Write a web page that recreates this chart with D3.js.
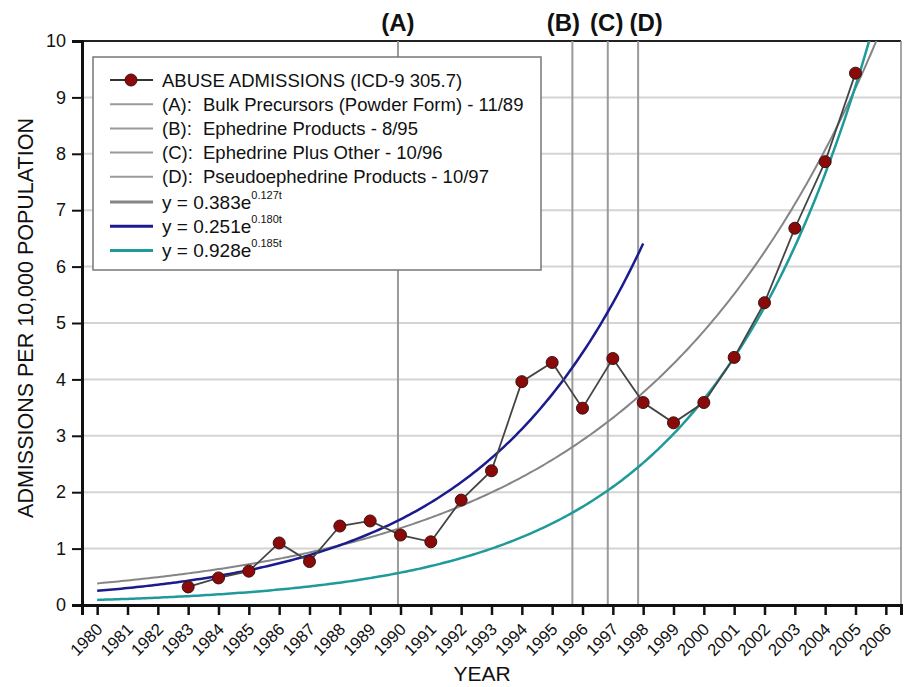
<!DOCTYPE html>
<html>
<head>
<meta charset="utf-8">
<script src="https://cdn.jsdelivr.net/npm/d3@7"></script>
<style>
  body { margin: 0; background: #fff; }
  text { font-family: 'Liberation Sans', Arial, sans-serif; fill: #111; }
</style>
</head>
<body>
<svg id="chart" width="905" height="687"></svg>
<script>
// data
var years = [1983, 1984, 1985, 1986, 1987, 1988, 1989, 1990, 1991, 1992, 1993, 1994,
  1995, 1996, 1997, 1998, 1999, 2000, 2001, 2002, 2003, 2004, 2005];
var admissions = [0.32, 0.48, 0.60, 1.10, 0.77, 1.40, 1.49, 1.24, 1.12, 1.86, 2.38, 3.96,
  4.30, 3.49, 4.37, 3.59, 3.23, 3.59, 4.39, 5.36, 6.68, 7.86, 9.43];

// policy events (year + month/12)
var eventNames = ['(A)', '(B)', '(C)', '(D)'];
var eventDates = [1989 + 11 / 12, 1995 + 8 / 12, 1996 + 10 / 12, 1997 + 10 / 12];
var eventLabelShift = [0, -9, -1, 8];

// exponential fits y = a * e^(b t), t counted from origin year
var fitLabels = ['0.383', '0.251', '0.928'];
var fitExps = ['0.127t', '0.180t', '0.185t'];
var fitA = [0.383, 0.251, 0.928];
var fitB = [0.127, 0.180, 0.185];
var fitOrigin = [1980, 1980, 1992.6];
var fitStart = [1980, 1980, 1980];
var fitEnd = [2006, 1998, 2006];
var fitColors = ['#858585', '#1b1b8f', '#1f9a9a'];

var legendText = [
  ['', 'ABUSE ADMISSIONS (ICD-9 305.7)'],
  ['(A):', 'Bulk Precursors (Powder Form) - 11/89'],
  ['(B):', 'Ephedrine Products - 8/95'],
  ['(C):', 'Ephedrine Plus Other - 10/96'],
  ['(D):', 'Pseudoephedrine Products - 10/97']
];

var yTicks = d3.range(0, 11);
var xTicks = d3.range(1980, 2007);

var svg = d3.select('#chart');
var margin = { left: 82, top: 41, right: 4, bottom: 82 };
var W = 905, H = 687;

var x = d3.scaleLinear().domain([1979.5, 2006.5]).range([margin.left, W - margin.right]);
var y = d3.scaleLinear().domain([0, 10]).range([H - margin.bottom, margin.top]);

svg.append('defs').append('clipPath').attr('id', 'plot-clip')
  .append('rect')
  .attr('x', margin.left).attr('y', margin.top)
  .attr('width', W - margin.right - margin.left)
  .attr('height', H - margin.bottom - margin.top);

// gridlines
svg.append('g').selectAll('line')
  .data(yTicks.filter(function(d) { return d > 0 && d < 10; }))
  .enter().append('line')
  .attr('x1', margin.left).attr('x2', W - margin.right)
  .attr('y1', function(d) { return y(d); }).attr('y2', function(d) { return y(d); })
  .attr('stroke', '#d4d4d4').attr('stroke-width', 2);

// frame top and right
svg.append('line').attr('x1', margin.left).attr('x2', W - margin.right)
  .attr('y1', y(10)).attr('y2', y(10)).attr('stroke', '#222').attr('stroke-width', 2);
svg.append('line').attr('x1', W - margin.right).attr('x2', W - margin.right)
  .attr('y1', y(10)).attr('y2', y(0)).attr('stroke', '#888').attr('stroke-width', 1.5);

// event lines
svg.append('g').selectAll('line')
  .data(eventDates)
  .enter().append('line')
  .attr('x1', function(d) { return x(d); }).attr('x2', function(d) { return x(d); })
  .attr('y1', y(0)).attr('y2', y(10))
  .attr('stroke', '#9a9a9a').attr('stroke-width', 2);

svg.append('g').selectAll('text')
  .data(eventNames)
  .enter().append('text')
  .attr('x', function(d, i) { return x(eventDates[i]) + eventLabelShift[i]; })
  .attr('y', 31)
  .attr('text-anchor', 'middle')
  .style('font-size', '24px').style('font-weight', 'bold')
  .text(function(d) { return d; });

// fitted curves
var plot = svg.append('g').attr('clip-path', 'url(#plot-clip)');
var curveLine = d3.line()
  .x(function(d) { return x(d[0]); })
  .y(function(d) { return y(d[1]); });

fitA.forEach(function(a, i) {
  var pts = d3.range(fitStart[i], fitEnd[i] + 0.001, 0.1).map(function(t) {
    return [t, a * Math.exp(fitB[i] * (t - fitOrigin[i]))];
  });
  plot.append('path')
    .attr('d', curveLine(pts))
    .attr('fill', 'none')
    .attr('stroke', fitColors[i])
    .attr('stroke-width', i === 0 ? 2 : 2.5);
});

// admissions series
var series = years.map(function(d, i) { return [d, admissions[i]]; });
plot.append('path')
  .attr('d', curveLine(series))
  .attr('fill', 'none')
  .attr('stroke', '#444')
  .attr('stroke-width', 1.8);

plot.selectAll('circle.pt')
  .data(series)
  .enter().append('circle')
  .attr('class', 'pt')
  .attr('cx', function(d) { return x(d[0]); })
  .attr('cy', function(d) { return y(d[1]); })
  .attr('r', 6)
  .attr('fill', '#8a0a0a')
  .attr('stroke', '#3a1010')
  .attr('stroke-width', 1);

// axes
var yAxis = svg.append('g')
  .attr('transform', 'translate(' + margin.left + ',0)')
  .call(d3.axisLeft(y).tickValues(yTicks).tickSize(10).tickPadding(6).tickFormat(d3.format('d')));
yAxis.select('.domain').attr('stroke', '#111').attr('stroke-width', 3);
yAxis.selectAll('.tick line').attr('stroke', '#111').attr('stroke-width', 2);
yAxis.selectAll('.tick text').style('font-size', '18px').style('font-family', "'Liberation Sans', Arial, sans-serif").attr('fill', '#111');

var xAxis = svg.append('g')
  .attr('transform', 'translate(0,' + y(0) + ')')
  .call(d3.axisBottom(x).tickValues(xTicks).tickSize(10).tickFormat(d3.format('d')));
xAxis.select('.domain').attr('stroke', '#111').attr('stroke-width', 3);
xAxis.selectAll('.tick line').attr('stroke', '#111').attr('stroke-width', 2.5);
xAxis.selectAll('.tick text')
  .style('font-size', '16.8px').style('font-family', "'Liberation Sans', Arial, sans-serif").attr('fill', '#111')
  .attr('text-anchor', 'end')
  .attr('x', 0).attr('y', 0).attr('dy', 0)
  .attr('transform', 'translate(6,25.5) rotate(-45)');

svg.append('text')
  .attr('x', 482).attr('y', 681)
  .attr('text-anchor', 'middle')
  .style('font-size', '21px')
  .text('YEAR');

svg.append('text')
  .attr('transform', 'translate(33,' + 318 + ') rotate(-90)')
  .attr('text-anchor', 'middle')
  .style('font-size', '21.5px')
  .text('ADMISSIONS PER 10,000 POPULATION');

// legend
var lg = svg.append('g').attr('transform', 'translate(93,57)');
lg.append('rect')
  .attr('width', 448).attr('height', 213)
  .attr('fill', '#fff').attr('stroke', '#777').attr('stroke-width', 1.5);

var rowH = 24.2, row0 = 23;
legendText.forEach(function(r, i) {
  var ry = row0 + i * rowH;
  lg.append('line').attr('x1', 17).attr('x2', 60).attr('y1', ry).attr('y2', ry)
    .attr('stroke', i === 0 ? '#333' : '#9a9a9a').attr('stroke-width', 2);
  if (i === 0) {
    lg.append('circle').attr('cx', 38).attr('cy', ry).attr('r', 6)
      .attr('fill', '#8a0a0a').attr('stroke', '#3a1010');
    lg.append('text').attr('x', 69).attr('y', ry + 6.5).style('font-size', '18.5px').text(r[1]);
  } else {
    var t = lg.append('text').attr('y', ry + 6.5).style('font-size', '18.5px');
    t.append('tspan').attr('x', 69).text(r[0]);
    t.append('tspan').attr('x', 110).text(r[1]);
  }
});

fitLabels.forEach(function(lab, i) {
  var ry = row0 + (legendText.length + i) * rowH + 1;
  lg.append('line').attr('x1', 17).attr('x2', 60).attr('y1', ry).attr('y2', ry)
    .attr('stroke', fitColors[i]).attr('stroke-width', 3);
  var t = lg.append('text').attr('x', 69).attr('y', ry + 7).style('font-size', '19px');
  t.append('tspan').text('y = ' + lab + 'e');
  t.append('tspan').attr('dy', -10).style('font-size', '11px').text(fitExps[i]);
});
</script>
</body>
</html>
